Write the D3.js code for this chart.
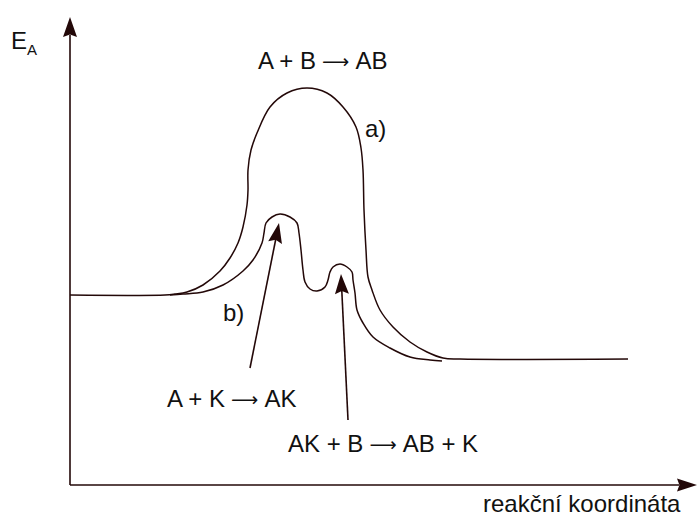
<!DOCTYPE html>
<html>
<head>
<meta charset="utf-8">
<script src="https://cdn.jsdelivr.net/npm/d3@7"></script>
<style>
  html, body { margin: 0; padding: 0; background: #fff; }
  svg { display: block; }
  text { font-family: "Liberation Sans", Arial, Helvetica, sans-serif; fill: #111; }
</style>
</head>
<body>
<svg id="chart" width="697" height="516"></svg>
<script>
// Reaction coordinate (x) and activation energy (y), arbitrary units
const curveA = [
  [0,190],[95,190],[105,191],[117,193],[133,200],[150,214],[160,227],[168,242],
  [173,258],[177,280],[178,295],[178,315],[181,335],[187,352],[200,378],[217,392],
  [237,397],[257,392],[273,378],[286,358],[291,337],[293,315],[294,275],[296,235],
  [298,208],[302,195],[310,175],[323,158],[340,143],[357,133],[373,127],[390,126],[558,126]
];
const curveB = [
  [100,190],[113,191],[133,193],[153,200],[173,214],[183,225],[192,242],[194,252],
  [196,262],[202,268],[210,271],[220,268],[227,262],[229,252],[231,235],[233,215],
  [235,203],[240,196],[247,194],[255,198],[258,205],[260,213],[263,218],[270,221],
  [277,218],[282,213],[283,205],[285,192],[287,175],[293,162],[303,148],[320,137],
  [340,128],[360,125],[372,124]
];
// pointer arrows: [from, to]
const pointers = [
  [[180,117],[209,262]],
  [[278,65],[271,211]]
];
// reaction labels: [left side, right side]
const reactions = [
  { left: "A + B", right: "AB", pos: [188,416] },
  { left: "A + K", right: "AK", pos: [97,78] },
  { left: "AK + B", right: "AB + K", pos: [218,33] }
];
const curveLabels = [
  { text: "a)", pos: [295,348] },
  { text: "b)", pos: [153,164] }
];
const xTitle = "reakční koordináta";
const yTitle = ["E", "A"];

const svg = d3.select("#chart");
const x = d3.scaleLinear().domain([0, 620]).range([70, 690]);
const y = d3.scaleLinear().domain([0, 470]).range([485, 15]);
const ink = "#230808";

const line = d3.line().x(d => x(d[0])).y(d => y(d[1])).curve(d3.curveCatmullRom.alpha(0.5));

// axes
const x0 = x(0), y0 = y(0);
svg.append("line").attr("x1", x0).attr("y1", y0).attr("x2", x0).attr("y2", y(468) + 18)
  .attr("stroke", ink).attr("stroke-width", 1.6);
svg.append("line").attr("x1", x0).attr("y1", y0).attr("x2", x(627) - 18).attr("y2", y0)
  .attr("stroke", ink).attr("stroke-width", 1.6);

function head(tip, from, len, half, notch) {
  const dx = tip[0] - from[0], dy = tip[1] - from[1];
  const L = Math.hypot(dx, dy), ux = dx / L, uy = dy / L;
  const bx = tip[0] - ux * len, by = tip[1] - uy * len;
  const nx = -uy, ny = ux;
  const mx = tip[0] - ux * len * (1 - notch), my = tip[1] - uy * len * (1 - notch);
  return `M${tip[0]},${tip[1]}L${bx + nx * half},${by + ny * half}L${mx},${my}L${bx - nx * half},${by - ny * half}Z`;
}
svg.append("path").attr("d", head([x0, y(468)], [x0, y0], 20, 7, 0.12)).attr("fill", ink);
svg.append("path").attr("d", head([x(627), y0], [x0, y0], 20, 6.5, 0.12)).attr("fill", ink);

// curves
svg.append("path").attr("d", line(curveA)).attr("fill", "none").attr("stroke", ink).attr("stroke-width", 1.5);
svg.append("path").attr("d", line(curveB)).attr("fill", "none").attr("stroke", ink).attr("stroke-width", 1.5);

// pointers
pointers.forEach(([f, t]) => {
  const F = [x(f[0]), y(f[1])], T = [x(t[0]), y(t[1])];
  const dx = T[0] - F[0], dy = T[1] - F[1], L = Math.hypot(dx, dy);
  svg.append("line").attr("x1", F[0]).attr("y1", F[1])
    .attr("x2", T[0] - dx / L * 14).attr("y2", T[1] - dy / L * 14)
    .attr("stroke", ink).attr("stroke-width", 1.6);
  svg.append("path").attr("d", head(T, F, 20, 7, 0.15)).attr("fill", ink);
});

// reaction labels
reactions.forEach(r => {
  const t = svg.append("text").attr("x", x(r.pos[0])).attr("y", y(r.pos[1])).attr("font-size", 24);
  t.append("tspan").text(r.left);
  t.append("tspan").style("font-family", "DejaVu Sans").attr("font-size", 19).attr("dy", -1)
    .text(" \u27F6 ");
  t.append("tspan").attr("dy", 1).text(r.right);
});
curveLabels.forEach(l => {
  svg.append("text").attr("x", x(l.pos[0])).attr("y", y(l.pos[1]))
    .attr("font-size", 24).text(l.text);
});
svg.append("text").attr("x", 483).attr("y", 512).attr("font-size", 24).text(xTitle);
const yt = svg.append("text").attr("x", 11).attr("y", 49).attr("font-size", 24);
yt.append("tspan").text(yTitle[0]);
yt.append("tspan").attr("font-size", 15).attr("dy", 6).text(yTitle[1]);
</script>
</body>
</html>
